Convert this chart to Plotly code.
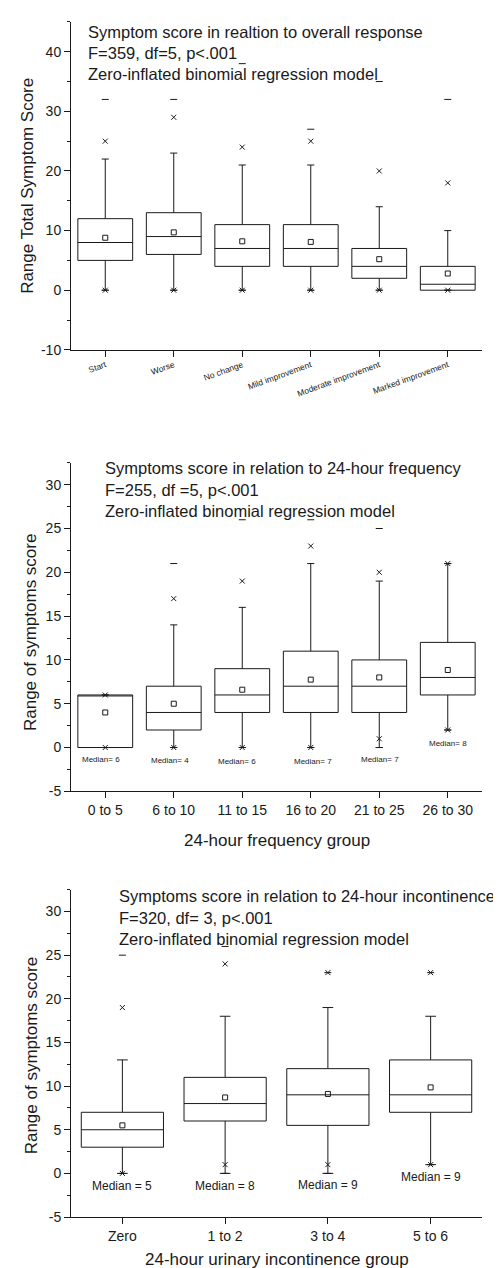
import plotly.graph_objects as go

W, H = 501, 1268

# ---------------- data: panel 1 (overall response) ----------------
cats1 = ["Start", "Worse", "No change", "Mild improvement", "Moderate improvement", "Marked improvement"]
q1_1 = [5, 6, 4, 4, 2, 0]
med_1 = [8, 9, 7, 7, 4, 1]
q3_1 = [12, 13, 11, 11, 7, 4]
lo_1 = [0, 0, 0, 0, 0, 0]
hi_1 = [22, 23, 21, 21, 14, 10]
mean_1 = [8.8, 9.7, 8.2, 8.1, 5.2, 2.8]
p01_1 = [0, 0, 0, 0, 0, 0]
p99_1 = [25, 29, 24, 25, 20, 18]
min_1 = [0, 0, 0, 0, 0, 0]
max_1 = [32, 32, 38, 27, 35, 32]
yticks_1 = [-10, 0, 10, 20, 30, 40]
ylabels_1 = ["-10", "0", "10", "20", "30", "40"]

# ---------------- data: panel 2 (24-hour frequency) ----------------
cats2 = ["0 to 5", "6 to 10", "11 to 15", "16 to 20", "21 to 25", "26 to 30"]
q1_2 = [0, 2, 4, 4, 4, 6]
med_2 = [6, 4, 6, 7, 7, 8]
q3_2 = [6, 7, 9, 11, 10, 12]
lo_2 = [0, 0, 0, 0, 0, 2]
hi_2 = [6, 14, 16, 21, 19, 21]
mean_2 = [4.0, 5.0, 6.6, 7.75, 8.0, 8.85]
p01_2 = [0, 0, 0, 0, 1, 2]
p99_2 = [6, 17, 19, 23, 20, 21]
min_2 = [0, 0, 0, 0, 0, 2]
max_2 = [6, 21, 26, 26, 25, 21]
labels_2 = ["Median= 6", "Median= 4", "Median= 6", "Median= 7", "Median= 7", "Median= 8"]

# ---------------- data: panel 3 (24-hour incontinence) ----------------
cats3 = ["Zero", "1 to 2", "3 to 4", "5 to 6"]
q1_3 = [3, 6, 5.5, 7]
med_3 = [5, 8, 9, 9]
q3_3 = [7, 11, 12, 13]
lo_3 = [0, 0, 0, 1]
hi_3 = [13, 18, 19, 18]
mean_3 = [5.5, 8.7, 9.1, 9.85]
p01_3 = [0, 1, 1, 1]
p99_3 = [19, 24, 23, 23]
min_3 = [0, 0, 0, 1]
max_3 = [25, 26, 23, 23]
labels_3 = ["Median = 5", "Median = 8", "Median = 9", "Median = 9"]

yticks_23 = [-5, 0, 5, 10, 15, 20, 25, 30]
ylabels_23 = ["-5", "0", "5", "10", "15", "20", "25", "30"]

titles_1 = ["Symptom score in realtion to overall response", "F=359, df=5, p<.001",
            "Zero-inflated binomial regression model"]
titles_2 = ["Symptoms score in relation to 24-hour frequency", "F=255, df =5, p<.001",
            "Zero-inflated binomial regression model"]
titles_3 = ["Symptoms score in relation to 24-hour incontinence", "F=320, df= 3, p<.001",
            "Zero-inflated binomial regression model"]

# ---------------- layout constants ----------------
FONT = "Liberation Sans, Arial, sans-serif"
INK = "#1a1a1a"
label_dy_2 = [-1.4, -1.5, -1.6, -1.6, -1.4, 0.45]
label_dx_2 = [-0.06, -0.06, -0.07, 0.03, 0.01, 0.01]
label_dy_3 = [-1.5, -1.4, -1.3, -0.4]


def py(pix):
    return 1 - pix / H


def px(pix):
    return pix / W


fig = go.Figure()


def add_panel(fig, ax, cats, q1, med, q3, lo, hi, mean, p01, p99, mn, mx):
    xa = "x" if ax == 1 else f"x{ax}"
    ya = "y" if ax == 1 else f"y{ax}"
    fig.add_trace(go.Box(
        x=cats, q1=q1, median=med, q3=q3, lowerfence=lo, upperfence=hi,
        boxpoints=False, width=0.8, whiskerwidth=0.13,
        fillcolor="white", line=dict(color=INK, width=1),
        xaxis=xa, yaxis=ya, showlegend=False, hoverinfo="skip"))
    fig.add_trace(go.Scatter(
        x=cats, y=mean, mode="markers", xaxis=xa, yaxis=ya, showlegend=False,
        marker=dict(symbol="square-open", size=5, color=INK, line=dict(width=1))))
    fig.add_trace(go.Scatter(
        x=cats + cats, y=p01 + p99, mode="markers", xaxis=xa, yaxis=ya, showlegend=False,
        marker=dict(symbol="x-thin-open", size=5, color=INK, line=dict(width=1, color=INK))))
    fig.add_trace(go.Scatter(
        x=cats + cats, y=mn + mx, mode="markers", xaxis=xa, yaxis=ya, showlegend=False,
        marker=dict(symbol="line-ew-open", size=5, color=INK, line=dict(width=1, color=INK))))


add_panel(fig, 1, cats1, q1_1, med_1, q3_1, lo_1, hi_1, mean_1, p01_1, p99_1, min_1, max_1)
add_panel(fig, 2, cats2, q1_2, med_2, q3_2, lo_2, hi_2, mean_2, p01_2, p99_2, min_2, max_2)
add_panel(fig, 3, cats3, q1_3, med_3, q3_3, lo_3, hi_3, mean_3, p01_3, p99_3, min_3, max_3)

xdom = [px(63), px(474)]
common_x = dict(showgrid=False, zeroline=False, showline=True, linecolor=INK, linewidth=1,
                ticks="outside", ticklen=6, tickcolor=INK, tickwidth=1, type="category",
                tickfont=dict(family=FONT, size=14, color=INK), domain=xdom)
common_y = dict(showgrid=False, zeroline=False, showline=True, linecolor=INK, linewidth=1,
                ticks="outside", ticklen=6, tickcolor=INK, tickwidth=1, tickmode="array",
                tickfont=dict(family=FONT, size=14, color=INK))

fig.update_layout(
    width=W, height=H, margin=dict(l=0, r=0, t=0, b=0),
    paper_bgcolor="white", plot_bgcolor="white",
    font=dict(family=FONT, color=INK),
    xaxis=dict(common_x, anchor="y", range=[-0.5, 5.5], tickangle=-20,
               tickfont=dict(family=FONT, size=8.5, color=INK)),
    yaxis=dict(common_y, anchor="x", domain=[py(344), py(14)], range=[-10, 45],
               tickvals=yticks_1, ticktext=ylabels_1,
               minor=dict(dtick=5, tick0=0, ticks="outside", ticklen=3, tickcolor=INK)),
    xaxis2=dict(common_x, anchor="y2", range=[-0.5, 5.5]),
    yaxis2=dict(common_y, anchor="x2", domain=[py(788.3), py(457.7)], range=[-5, 32.5],
                tickvals=yticks_23, ticktext=ylabels_23,
                minor=dict(dtick=2.5, tick0=0, ticks="outside", ticklen=3, tickcolor=INK)),
    xaxis3=dict(common_x, anchor="y3", range=[-0.5, 3.5]),
    yaxis3=dict(common_y, anchor="x3", domain=[py(1216.7), py(887.3)], range=[-5, 32.5],
                tickvals=yticks_23, ticktext=ylabels_23,
                minor=dict(dtick=2.5, tick0=0, ticks="outside", ticklen=3, tickcolor=INK)),
)

ann = []
# panel titles
for lines, x0, ys in [(titles_1, 78, [24, 45, 66]),
                      (titles_2, 95, [463, 485, 506]),
                      (titles_3, 109, [894, 915.7, 936.7])]:
    for t, yy in zip(lines, ys):
        ann.append(dict(text=t, x=px(x0), y=py(yy), xref="paper", yref="paper",
                        xanchor="left", yanchor="middle", showarrow=False,
                        font=dict(family=FONT, size=16.5, color=INK)))

# axis titles
ann.append(dict(text="Range Total Symptom Score", x=px(20), y=py(179), xref="paper", yref="paper",
                textangle=-90, showarrow=False, xanchor="center", yanchor="middle",
                font=dict(family=FONT, size=17, color=INK)))
ann.append(dict(text="Range of symptoms score", x=px(22), y=py(629), xref="paper", yref="paper",
                textangle=-90, showarrow=False, xanchor="center", yanchor="middle",
                font=dict(family=FONT, size=17, color=INK)))
ann.append(dict(text="Range of symptoms score", x=px(23), y=py(1055), xref="paper", yref="paper",
                textangle=-90, showarrow=False, xanchor="center", yanchor="middle",
                font=dict(family=FONT, size=17, color=INK)))
ann.append(dict(text="24-hour frequency group", x=px(269), y=py(838), xref="paper", yref="paper",
                showarrow=False, xanchor="center", yanchor="middle",
                font=dict(family=FONT, size=17, color=INK)))
ann.append(dict(text="24-hour urinary incontinence group", x=px(269), y=py(1259), xref="paper",
                yref="paper", showarrow=False, xanchor="center", yanchor="middle",
                font=dict(family=FONT, size=17, color=INK)))

# median labels
for i, t in enumerate(labels_2):
    ann.append(dict(text=t, x=i + label_dx_2[i], y=label_dy_2[i], xref="x2", yref="y2",
                    showarrow=False, xanchor="center", yanchor="middle",
                    font=dict(family=FONT, size=8, color=INK)))
for i, t in enumerate(labels_3):
    ann.append(dict(text=t, x=i, y=label_dy_3[i], xref="x3", yref="y3",
                    showarrow=False, xanchor="center", yanchor="middle",
                    font=dict(family=FONT, size=12, color=INK)))

fig.update_layout(annotations=ann)
fig.write_html("out.html")
